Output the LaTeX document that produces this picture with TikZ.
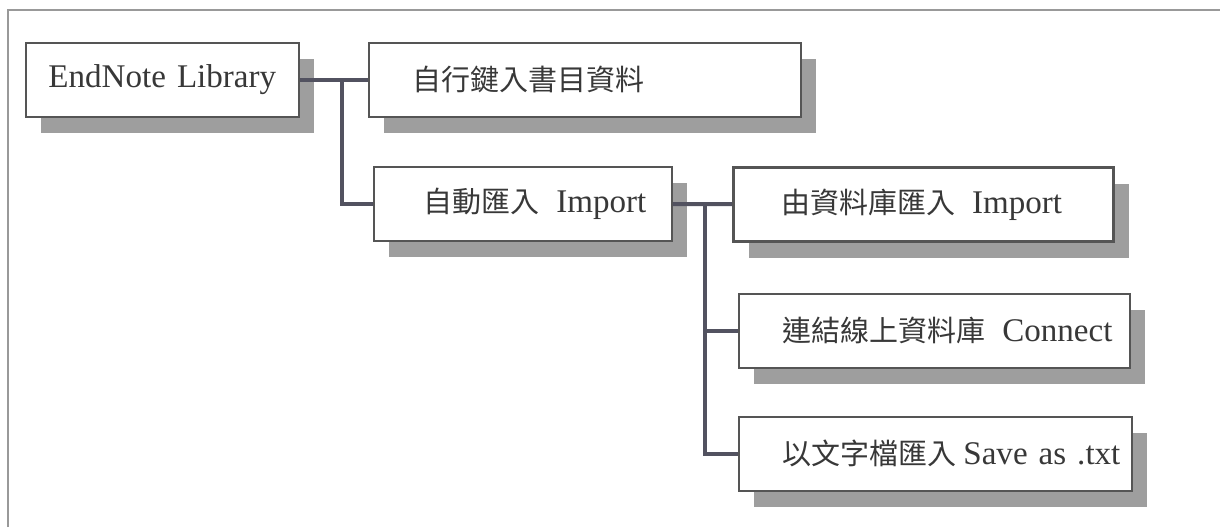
\documentclass[tikz,border=0pt]{standalone}
\usepackage{fontspec}
\setmainfont{Liberation Serif}[Scale=1.14]
\newfontfamily\cjk{Noto Sans CJK TC}
\usetikzlibrary{shadows}
\definecolor{linkgray}{RGB}{82,82,96}
\definecolor{boxline}{RGB}{85,85,85}
\begin{document}
\begin{tikzpicture}[x=0.5pt,y=-0.5pt,
    box/.style={draw=boxline, line width=0.8pt, fill=white, anchor=north west,
        inner sep=0pt, minimum height=37pt, text width=#1, align=left,
        font=\fontsize{14.5}{17}\selectfont, text=black!78,
        drop shadow={opacity=1, fill=black!38, shadow xshift=7.5pt, shadow yshift=-8pt}},
    link/.style={draw=linkgray, line width=2pt}]
            \useasboundingbox (0,0) rectangle (1220,527);
            \draw[gray!80, line width=1.2pt] (8,527) -- (8,10) -- (1220,10);
            \node[box=136.5pt, align=center] (root) at (25,42) {EndNote Library};
            \node[box=216pt] (manual) at (368,42) {\hspace*{22pt}{\cjk 自行鍵入書目資料}};
            \node[box=149pt] (auto) at (373,166) {\hspace*{25pt}{\cjk 自動匯入}\hspace{.5em}Import};
            \node[box=190pt, line width=1.6pt] (db) at (732,166) {\hspace*{24pt}{\cjk 由資料庫匯入}\hspace{.5em}Import};
            \node[box=195.5pt] (conn) at (738,293) {\hspace*{22pt}{\cjk 連結線上資料庫}\hspace{.5em}Connect};
            \node[box=196.5pt] (txt) at (738,416) {\hspace*{22pt}{\cjk 以文字檔匯入}\hspace{.2em}Save as .txt};
            \coordinate (j1) at (342,79);
            \coordinate (j2) at (705,203);
            \draw[link] (root) -- (manual);
            \draw[link] (j1) |- (auto.west);
            \draw[link] (auto) -- (db);
            \draw[link] (j2) |- (conn.west);
            \draw[link] (j2) |- (txt.west);
\end{tikzpicture}
\end{document}
